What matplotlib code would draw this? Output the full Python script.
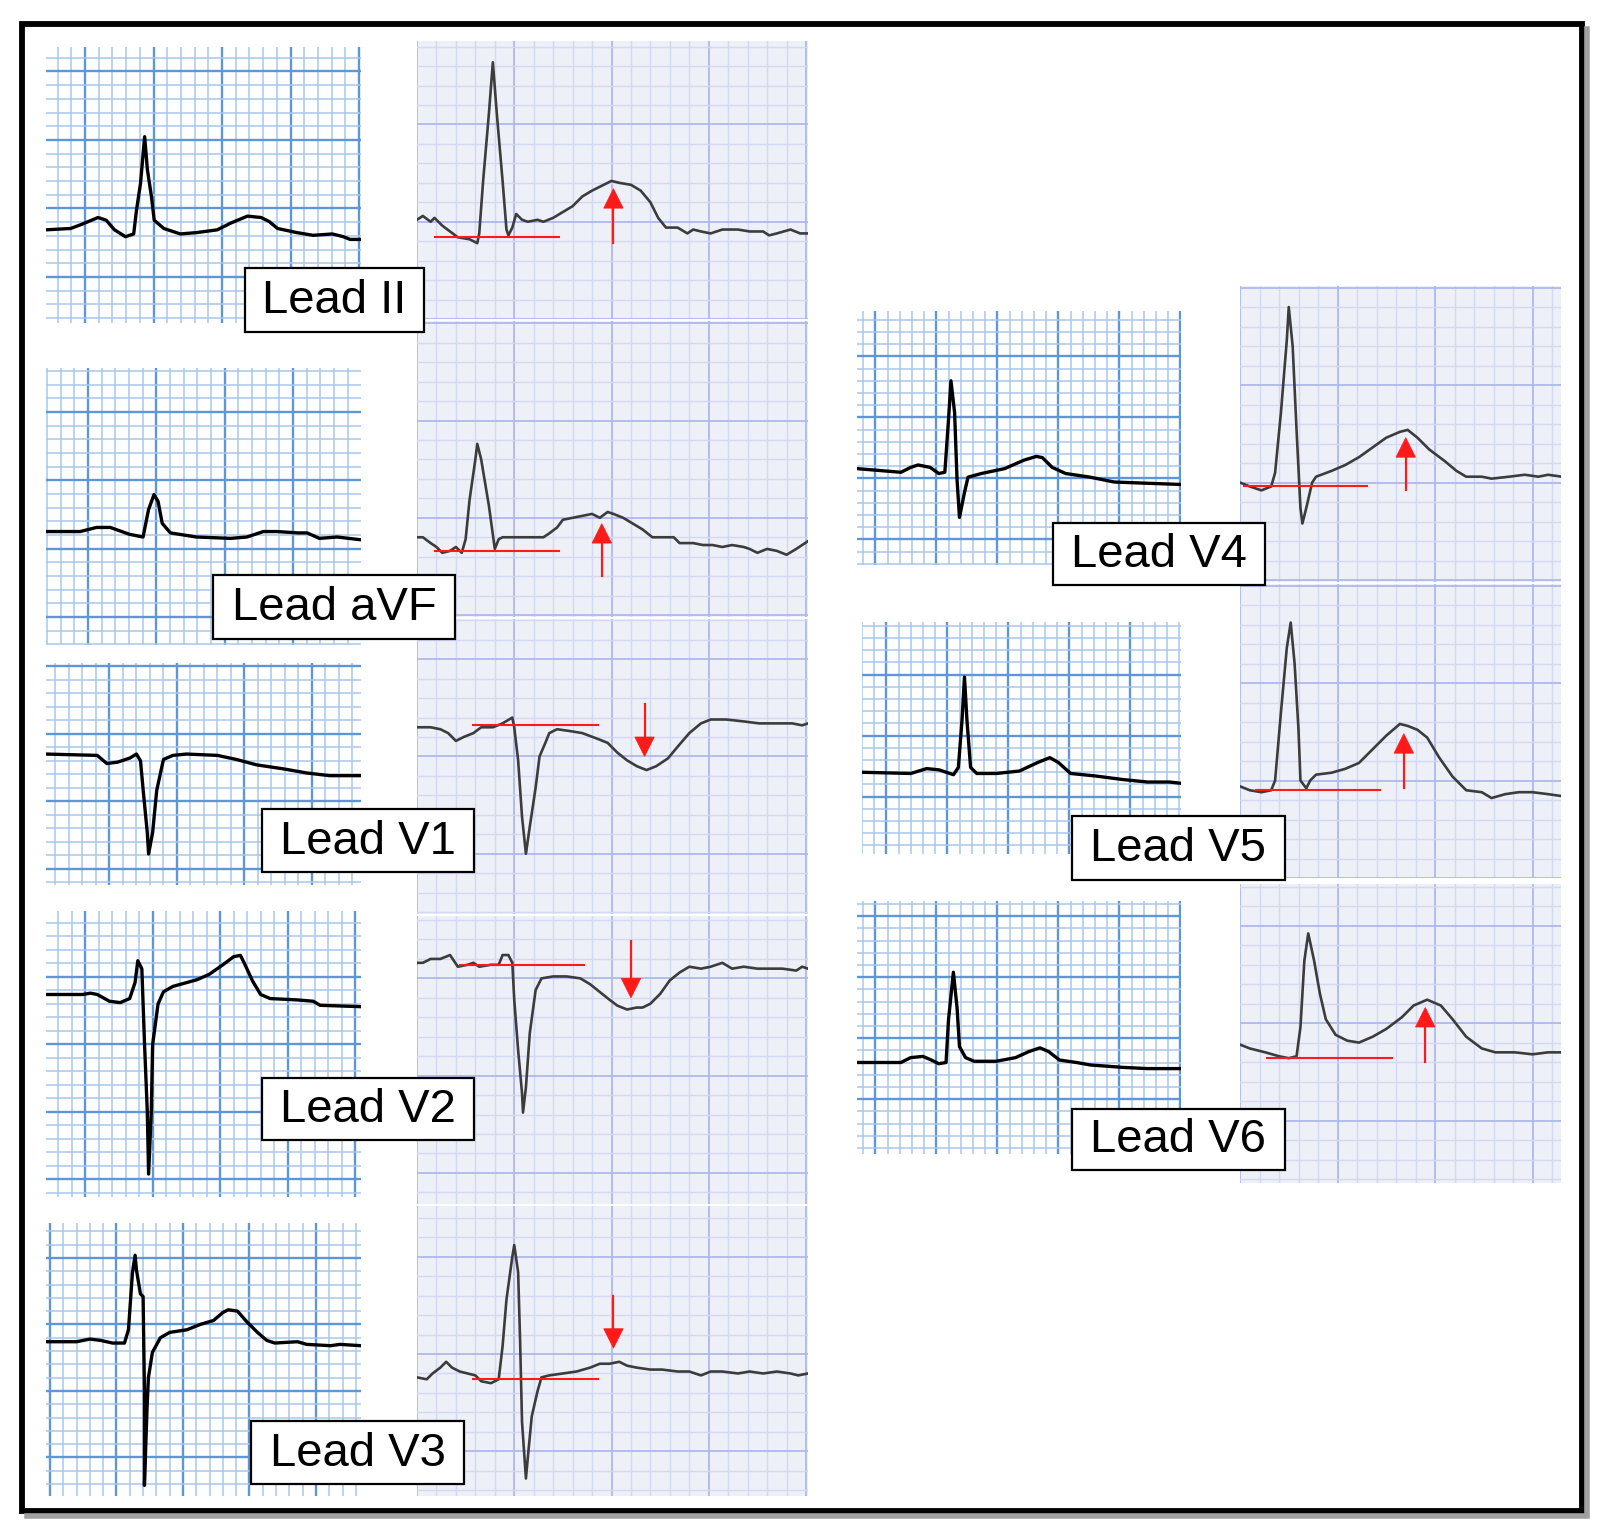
import matplotlib
matplotlib.use("Agg")
from matplotlib import pyplot as plt
from matplotlib.patches import Rectangle, Polygon
import numpy as np

# ECG traces, in mm of the grid (1 small square); x from panel left, y from panel bottom
# small panels (left of each pair)
lead_ii_small = [(0, 6.8), (1.8, 6.9), (2.6, 7.2), (3.8, 7.7), (4.4, 7.5), (5.0, 6.8), (5.8, 6.3),
                 (6.4, 6.5), (6.6, 8.2), (6.9, 10.2), (7.2, 13.6), (7.4, 11.2), (7.7, 9.2), (7.9, 7.5),
                 (8.6, 6.9), (9.8, 6.5), (11.0, 6.6), (12.5, 6.8), (13.5, 7.3), (14.7, 7.8), (15.7, 7.7),
                 (16.3, 7.4), (16.9, 6.9), (18.3, 6.6), (19.5, 6.4), (20.9, 6.5), (21.7, 6.3), (22.2, 6.1),
                 (23.0, 6.1)]
lead_avf_small = [(0, 8.3), (2.5, 8.3), (3.7, 8.6), (4.7, 8.6), (6.1, 8.1), (7.1, 7.9), (7.5, 9.9),
                  (7.9, 11.0), (8.2, 10.5), (8.5, 8.9), (9.1, 8.2), (11.0, 7.9), (13.5, 7.8), (14.7, 7.9),
                  (15.9, 8.3), (16.9, 8.3), (18.4, 8.2), (19.1, 8.2), (20.0, 7.8), (21.3, 7.9), (23.0, 7.7)]
lead_v1_small = [(0, 9.7), (3.8, 9.6), (4.5, 9.0), (5.3, 9.1), (6.2, 9.4), (6.7, 9.7), (7.0, 9.2),
                 (7.2, 7.0), (7.5, 3.9), (7.6, 2.3), (7.9, 3.9), (8.2, 7.0), (8.7, 9.3), (9.4, 9.6),
                 (10.4, 9.7), (12.7, 9.6), (14.1, 9.3), (15.6, 8.9), (17.6, 8.6), (19.3, 8.3), (21.0, 8.1),
                 (23.3, 8.1)]
lead_v2_small = [(0, 15.0), (2.7, 15.0), (3.3, 15.1), (3.8, 15.0), (4.7, 14.5), (5.5, 14.4), (6.2, 14.7),
                 (6.6, 15.9), (6.8, 17.5), (7.1, 16.9), (7.3, 11.3), (7.5, 6.4), (7.6, 1.7), (7.8, 6.4),
                 (7.9, 11.3), (8.3, 14.3), (8.7, 15.2), (9.4, 15.6), (11.2, 16.1), (12.1, 16.5),
                 (13.1, 17.2), (13.9, 17.8), (14.4, 17.9), (14.7, 17.3), (15.3, 16.0), (15.9, 15.0),
                 (16.6, 14.7), (18.6, 14.6), (19.8, 14.5), (20.3, 14.2), (23.3, 14.1)]
lead_v3_small = [(0, 11.6), (2.3, 11.6), (3.3, 11.8), (4.1, 11.7), (5.0, 11.5), (5.9, 11.5), (6.2, 12.5),
                 (6.5, 16.8), (6.7, 18.1), (6.8, 17.0), (7.1, 15.2), (7.3, 15.0), (7.4, 8.0), (7.4, 0.8),
                 (7.6, 6.7), (7.7, 8.9), (8.0, 10.8), (8.6, 11.9), (9.3, 12.3), (10.6, 12.5), (11.6, 12.9),
                 (12.6, 13.2), (13.3, 13.8), (13.7, 14.0), (14.4, 13.9), (15.1, 13.1), (15.9, 12.3),
                 (16.6, 11.7), (17.2, 11.5), (18.9, 11.6), (19.6, 11.4), (21.4, 11.3), (22.1, 11.4),
                 (23.7, 11.3)]
lead_v4_small = [(0, 7.9), (3.6, 7.6), (4.4, 8.0), (5.0, 8.2), (6.0, 8.0), (6.7, 7.5), (7.2, 7.6),
                 (7.5, 11.9), (7.7, 15.1), (8.0, 12.5), (8.2, 7.0), (8.4, 3.9), (8.8, 5.9), (9.1, 7.2),
                 (10.2, 7.5), (12.1, 7.9), (13.7, 8.6), (14.7, 8.9), (15.2, 8.8), (16.0, 8.0), (17.1, 7.5),
                 (19.1, 7.2), (21.1, 6.8), (23.8, 6.7), (26.6, 6.6)]
lead_v5_small = [(0, 6.7), (4.0, 6.6), (5.3, 7.0), (6.3, 6.9), (7.5, 6.5), (7.9, 7.1), (8.2, 11.0),
                 (8.4, 14.5), (8.6, 11.0), (8.9, 7.1), (9.4, 6.6), (11.0, 6.6), (12.9, 6.8), (14.4, 7.5),
                 (15.4, 7.9), (16.1, 7.5), (17.1, 6.6), (19.1, 6.4), (21.4, 6.1), (23.4, 5.9), (25.2, 5.9),
                 (26.1, 5.8)]
lead_v6_small = [(0, 7.5), (3.6, 7.5), (4.4, 7.9), (5.4, 8.0), (6.1, 7.7), (6.7, 7.4), (7.3, 7.5),
                 (7.5, 11.0), (7.9, 14.9), (8.2, 12.0), (8.4, 8.8), (8.9, 7.9), (9.6, 7.6), (11.4, 7.6),
                 (13.0, 7.9), (14.1, 8.4), (15.0, 8.7), (15.7, 8.4), (16.6, 7.7), (18.0, 7.5), (19.1, 7.3),
                 (21.8, 7.1), (23.8, 7.0), (25.7, 7.0), (26.6, 7.0)]

# magnified strips (right of each pair)
lead_ii_strip = [(0.0, 5.1), (0.3, 5.3), (0.7, 5.0), (0.9, 5.2), (1.3, 4.8), (1.7, 4.5), (2.1, 4.2),
                 (2.7, 4.1), (3.1, 3.9), (3.2, 4.4), (3.4, 7.1), (3.7, 10.6), (3.9, 13.2), (4.1, 10.6),
                 (4.4, 7.1), (4.6, 4.6), (4.7, 4.3), (4.9, 4.7), (5.1, 5.4), (5.4, 5.1), (5.7, 5.0),
                 (6.2, 5.1), (6.5, 5.0), (7.0, 5.2), (7.5, 5.5), (8.0, 5.8), (8.5, 6.3), (9.0, 6.6),
                 (9.6, 6.9), (10.0, 7.1), (10.4, 7.0), (11.0, 6.9), (11.5, 6.6), (12.0, 6.0), (12.4, 5.2),
                 (12.8, 4.7), (13.4, 4.7), (13.9, 4.4), (14.2, 4.6), (14.6, 4.5), (15.1, 4.4), (15.7, 4.6),
                 (16.5, 4.6), (17.1, 4.5), (17.8, 4.5), (18.1, 4.3), (18.5, 4.4), (19.2, 4.6), (19.7, 4.4),
                 (20.1, 4.4)]
lead_avf_strip = [(0.0, 4.1), (0.3, 4.1), (0.7, 3.8), (1.0, 3.6), (1.3, 3.3), (1.7, 3.4), (2.0, 3.6),
                  (2.3, 3.3), (2.5, 4.0), (2.7, 6.0), (3.0, 8.1), (3.1, 8.9), (3.3, 8.1), (3.7, 5.7),
                  (4.0, 3.5), (4.2, 4.0), (4.4, 4.1), (5.1, 4.1), (5.8, 4.1), (6.5, 4.1), (6.8, 4.3),
                  (7.2, 4.6), (7.5, 5.0), (8.0, 5.1), (8.5, 5.2), (9.0, 5.3), (9.4, 5.1), (9.8, 5.4),
                  (10.1, 5.3), (10.6, 5.1), (11.1, 4.8), (11.6, 4.5), (12.1, 4.1), (12.6, 4.1), (13.2, 4.1),
                  (13.5, 3.8), (14.2, 3.8), (14.7, 3.7), (15.2, 3.7), (15.7, 3.6), (16.2, 3.7), (16.8, 3.6),
                  (17.1, 3.5), (17.5, 3.3), (18.0, 3.5), (18.5, 3.4), (19.0, 3.2), (19.5, 3.5), (20.1, 3.9)]
lead_v1_strip = [(0.0, 9.6), (0.7, 9.6), (1.2, 9.5), (1.6, 9.3), (2.0, 8.9), (2.4, 9.1), (2.9, 9.3),
                 (3.3, 9.6), (3.9, 9.6), (4.4, 9.8), (4.9, 10.1), (5.0, 9.6), (5.2, 7.9), (5.4, 5.0),
                 (5.6, 3.1), (5.8, 4.5), (6.1, 6.5), (6.3, 8.1), (6.6, 8.8), (6.8, 9.3), (7.2, 9.5),
                 (7.9, 9.4), (8.5, 9.3), (9.3, 9.0), (9.8, 8.8), (10.3, 8.3), (10.8, 7.9), (11.3, 7.6),
                 (11.8, 7.4), (12.3, 7.6), (12.9, 8.0), (13.4, 8.6), (14.0, 9.3), (14.6, 9.8), (15.1, 10.0),
                 (15.9, 10.0), (16.8, 9.9), (17.6, 9.8), (18.5, 9.8), (19.3, 9.8), (19.8, 9.7), (20.1, 9.8)]
lead_v2_strip = [(0.0, 12.4), (0.3, 12.4), (0.7, 12.6), (1.2, 12.6), (1.7, 12.8), (1.9, 12.5), (2.1, 12.2),
                 (2.6, 12.3), (2.9, 12.4), (3.2, 12.2), (3.8, 12.3), (4.2, 12.3), (4.4, 12.8), (4.7, 12.8),
                 (4.9, 12.4), (5.0, 10.5), (5.2, 7.9), (5.4, 5.7), (5.45, 4.7), (5.6, 6.0), (5.8, 8.8),
                 (6.1, 11.0), (6.4, 11.6), (7.0, 11.7), (7.7, 11.7), (8.4, 11.6), (8.9, 11.3), (9.4, 10.9),
                 (9.9, 10.5), (10.3, 10.2), (10.8, 10.0), (11.3, 10.1), (11.6, 10.1), (12.0, 10.3),
                 (12.5, 10.8), (13.0, 11.5), (13.5, 11.9), (14.0, 12.2), (14.6, 12.1), (15.1, 12.2),
                 (15.7, 12.4), (16.2, 12.1), (16.8, 12.2), (17.5, 12.1), (18.1, 12.1), (18.8, 12.1),
                 (19.5, 12.0), (19.8, 12.2), (20.1, 12.1)]
lead_v3_strip = [(0.0, 6.1), (0.5, 6.0), (0.8, 6.3), (1.2, 6.6), (1.5, 6.9), (1.8, 6.6), (2.2, 6.4),
                 (2.6, 6.3), (3.0, 6.2), (3.3, 5.9), (3.8, 5.8), (4.2, 6.0), (4.4, 7.7), (4.6, 10.1),
                 (4.9, 12.3), (5.0, 12.9), (5.2, 11.5), (5.3, 8.0), (5.4, 3.8), (5.6, 0.9), (5.7, 2.0),
                 (5.9, 4.1), (6.2, 5.4), (6.4, 6.1), (6.8, 6.2), (7.5, 6.3), (8.2, 6.4), (8.9, 6.6),
                 (9.4, 6.8), (9.9, 6.8), (10.4, 6.9), (10.8, 6.7), (11.3, 6.6), (12.0, 6.5), (12.6, 6.5),
                 (13.4, 6.4), (14.0, 6.4), (14.6, 6.2), (15.1, 6.4), (15.7, 6.4), (16.5, 6.3), (17.1, 6.4),
                 (17.8, 6.3), (18.5, 6.4), (19.2, 6.3), (19.6, 6.2), (20.1, 6.3)]
lead_v4_strip = [(0.0, 5.1), (0.5, 4.9), (1.1, 4.7), (1.6, 4.9), (1.8, 5.6), (2.1, 8.7), (2.4, 12.4),
                 (2.5, 14.1), (2.7, 12.1), (2.9, 7.8), (3.1, 3.8), (3.2, 3.0), (3.4, 3.8), (3.7, 5.1),
                 (3.9, 5.4), (4.7, 5.7), (5.4, 6.0), (6.1, 6.4), (6.8, 6.9), (7.5, 7.4), (8.2, 7.7),
                 (8.6, 7.8), (9.1, 7.4), (9.7, 6.8), (10.5, 6.2), (11.1, 5.7), (11.6, 5.4), (12.4, 5.4),
                 (12.9, 5.3), (13.8, 5.4), (14.6, 5.5), (15.3, 5.4), (15.8, 5.5), (16.5, 5.4)]
lead_v5_strip = [(0.0, 4.7), (0.5, 4.5), (1.1, 4.4), (1.6, 4.5), (1.8, 5.0), (2.1, 8.5), (2.4, 11.8),
                 (2.6, 13.1), (2.8, 11.0), (3.0, 7.6), (3.1, 5.0), (3.4, 4.6), (3.6, 5.0), (3.9, 5.3),
                 (4.7, 5.4), (5.4, 5.6), (6.1, 5.9), (6.8, 6.6), (7.5, 7.3), (8.2, 7.9), (8.6, 7.8),
                 (9.1, 7.6), (9.6, 7.2), (10.2, 6.2), (10.9, 5.2), (11.6, 4.5), (12.4, 4.4), (12.9, 4.1),
                 (13.6, 4.3), (14.3, 4.4), (15.0, 4.4), (15.8, 4.3), (16.5, 4.2)]
lead_v6_strip = [(0.0, 7.1), (0.5, 6.9), (1.3, 6.7), (2.0, 6.5), (2.5, 6.4), (2.9, 6.5), (3.1, 8.0),
                 (3.3, 11.4), (3.5, 12.8), (3.8, 11.4), (4.1, 9.7), (4.4, 8.4), (4.9, 7.6), (5.5, 7.3),
                 (6.1, 7.2), (6.8, 7.5), (7.5, 7.9), (8.3, 8.5), (8.9, 9.1), (9.6, 9.4), (10.3, 9.1),
                 (10.9, 8.4), (11.6, 7.5), (12.4, 6.9), (13.1, 6.7), (14.1, 6.7), (15.0, 6.6), (15.8, 6.7),
                 (16.5, 6.7)]

lead_names = ["Lead II", "Lead aVF", "Lead V1", "Lead V2", "Lead V3", "Lead V4", "Lead V5", "Lead V6"]
small_traces = [lead_ii_small, lead_avf_small, lead_v1_small, lead_v2_small, lead_v3_small,
                lead_v4_small, lead_v5_small, lead_v6_small]
strip_traces = [lead_ii_strip, lead_avf_strip, lead_v1_strip, lead_v2_strip, lead_v3_strip,
                lead_v4_strip, lead_v5_strip, lead_v6_strip]
# red reference line on the strip (x start, x end, level) in mm
st_baselines = [(0.9, 7.3, 4.2), (0.9, 7.3, 3.4), (2.9, 9.3, 9.7), (2.2, 8.6, 12.3), (2.9, 9.3, 6.0),
                (0.2, 6.5, 4.9), (0.8, 7.2, 4.5), (1.4, 7.8, 6.4)]
# red arrows (x, tail, tip) in mm: tip above tail = elevation, below = depression
st_arrows = [(10.1, 3.9, 6.7), (9.5, 2.1, 4.8), (11.7, 10.8, 8.1), (11.0, 13.5, 10.6), (10.1, 10.3, 7.6),
             (8.5, 4.7, 7.4), (8.4, 4.6, 7.4), (9.5, 6.2, 9.0)]

# ---- layout (reference pixels): left, top, right, bottom, px per mm, major x offset, major y offset
small_boxes = [(46, 47, 361, 323, 13.7, 2.85, 3.36), (46, 368, 361, 645, 13.67, 3.07, 2.05),
               (46, 663, 361, 885, 13.5, 4.7, 1.2), (46, 911, 361, 1197, 13.5, 2.9, 1.3),
               (46, 1223, 361, 1496, 13.3, 0.3, 2.9), (857, 311, 1181, 565, 12.2, 1.5, 2.1),
               (862, 622, 1181, 854, 12.2, 2.0, 4.7), (857, 901, 1181, 1154, 12.2, 1.5, 4.5)]
strip_boxes = [(417, 41, 808, 319, 19.45, 0, 0), (417, 321, 808, 617, 19.45, 0, 0.1),
               (417, 619, 808, 914, 19.45, 0, 3.1), (417, 916, 808, 1204, 19.45, 0, 1.6),
               (417, 1206, 808, 1496, 19.45, 0, 2.3), (1240, 286, 1561, 582, 19.5, 0, 0.1),
               (1240, 584, 1561, 878, 19.5, 0, 0.0), (1240, 884, 1561, 1183, 19.5, 0, 3.2)]
label_boxes = [(245, 268, 424, 332), (213, 575, 455, 639), (262, 809, 474, 872), (262, 1078, 474, 1140),
               (251, 1421, 464, 1484), (1053, 523, 1265, 585), (1072, 816, 1285, 880),
               (1072, 1109, 1285, 1170)]

W_PX, H_PX = 1600, 1536
fig = plt.figure(figsize=(W_PX / 100, H_PX / 100), dpi=100)
fig.patch.set_facecolor("white")


def panel(box, bg, minor_c, major_c, minor_lw, major_lw):
    l, t, r, b, mm, xo, yo = box
    ax = fig.add_axes([l / W_PX, 1 - b / H_PX, (r - l) / W_PX, (b - t) / H_PX])
    w, h = (r - l) / mm, (b - t) / mm
    ax.set_xlim(0, w)
    ax.set_ylim(0, h)
    ax.set_facecolor(bg)
    ax.set_xticks(np.arange(xo % 5, w + 0.01, 5))
    ax.set_xticks(np.arange(xo % 1, w + 0.01, 1), minor=True)
    ax.set_yticks(np.arange(yo % 5, h + 0.01, 5))
    ax.set_yticks(np.arange(yo % 1, h + 0.01, 1), minor=True)
    ax.tick_params(which="both", length=0, labelbottom=False, labelleft=False)
    ax.grid(which="minor", color=minor_c, lw=minor_lw)
    ax.grid(which="major", color=major_c, lw=major_lw)
    for s in ax.spines.values():
        s.set_visible(False)
    return ax


for i in range(len(lead_names)):
    ax = panel(small_boxes[i], "white", "#a9c7ec", "#5f97d6", 1.1, 1.7)
    xs, ys = zip(*small_traces[i])
    ax.plot(xs, ys, color="black", lw=2.4, solid_joinstyle="round")

    ax = panel(strip_boxes[i], "#eef0f7", "#d3d9f3", "#aeb8ec", 1.0, 1.3)
    xs, ys = zip(*strip_traces[i])
    ax.plot(xs, ys, color="#3c3c3c", lw=1.9, solid_joinstyle="round")
    x0, x1, lvl = st_baselines[i]
    ax.plot([x0, x1], [lvl, lvl], color="#ff1a1a", lw=1.5)
    ax_x, tail, tip = st_arrows[i]
    d = 1 if tip > tail else -1
    hl, hw = 1.0, 1.0
    ax.plot([ax_x, ax_x], [tail, tip - d * hl * 0.6], color="#ff1a1a", lw=1.6)
    ax.add_patch(Polygon([(ax_x, tip), (ax_x - hw / 2, tip - d * hl), (ax_x + hw / 2, tip - d * hl)],
                         closed=True, facecolor="#ff1a1a", edgecolor="#ff1a1a", lw=0.5, zorder=3))

# overlay: label boxes and outer frame
ov = fig.add_axes([0, 0, 1, 1], zorder=10)
ov.set_xlim(0, W_PX)
ov.set_ylim(H_PX, 0)
ov.axis("off")
ov.patch.set_alpha(0)

for name, (l, t, r, b) in zip(lead_names, label_boxes):
    ov.add_patch(Rectangle((l, t), r - l, b - t, facecolor="white", edgecolor="black", lw=1.6))
    ov.text((l + r) / 2, (t + b) / 2 + 1, name, ha="center", va="center", fontsize=34,
            family=["Liberation Sans", "DejaVu Sans"], color="black")

# drop shadow on the right and bottom, then the black frame
ov.plot([1587, 1587, 27], [29, 1516, 1516], color="#a0a0a0", lw=4, solid_joinstyle="miter")
ov.add_patch(Rectangle((22, 24), 1560, 1487, fill=False, edgecolor="black", lw=4.2))

fig.savefig("out.png", dpi=100)
